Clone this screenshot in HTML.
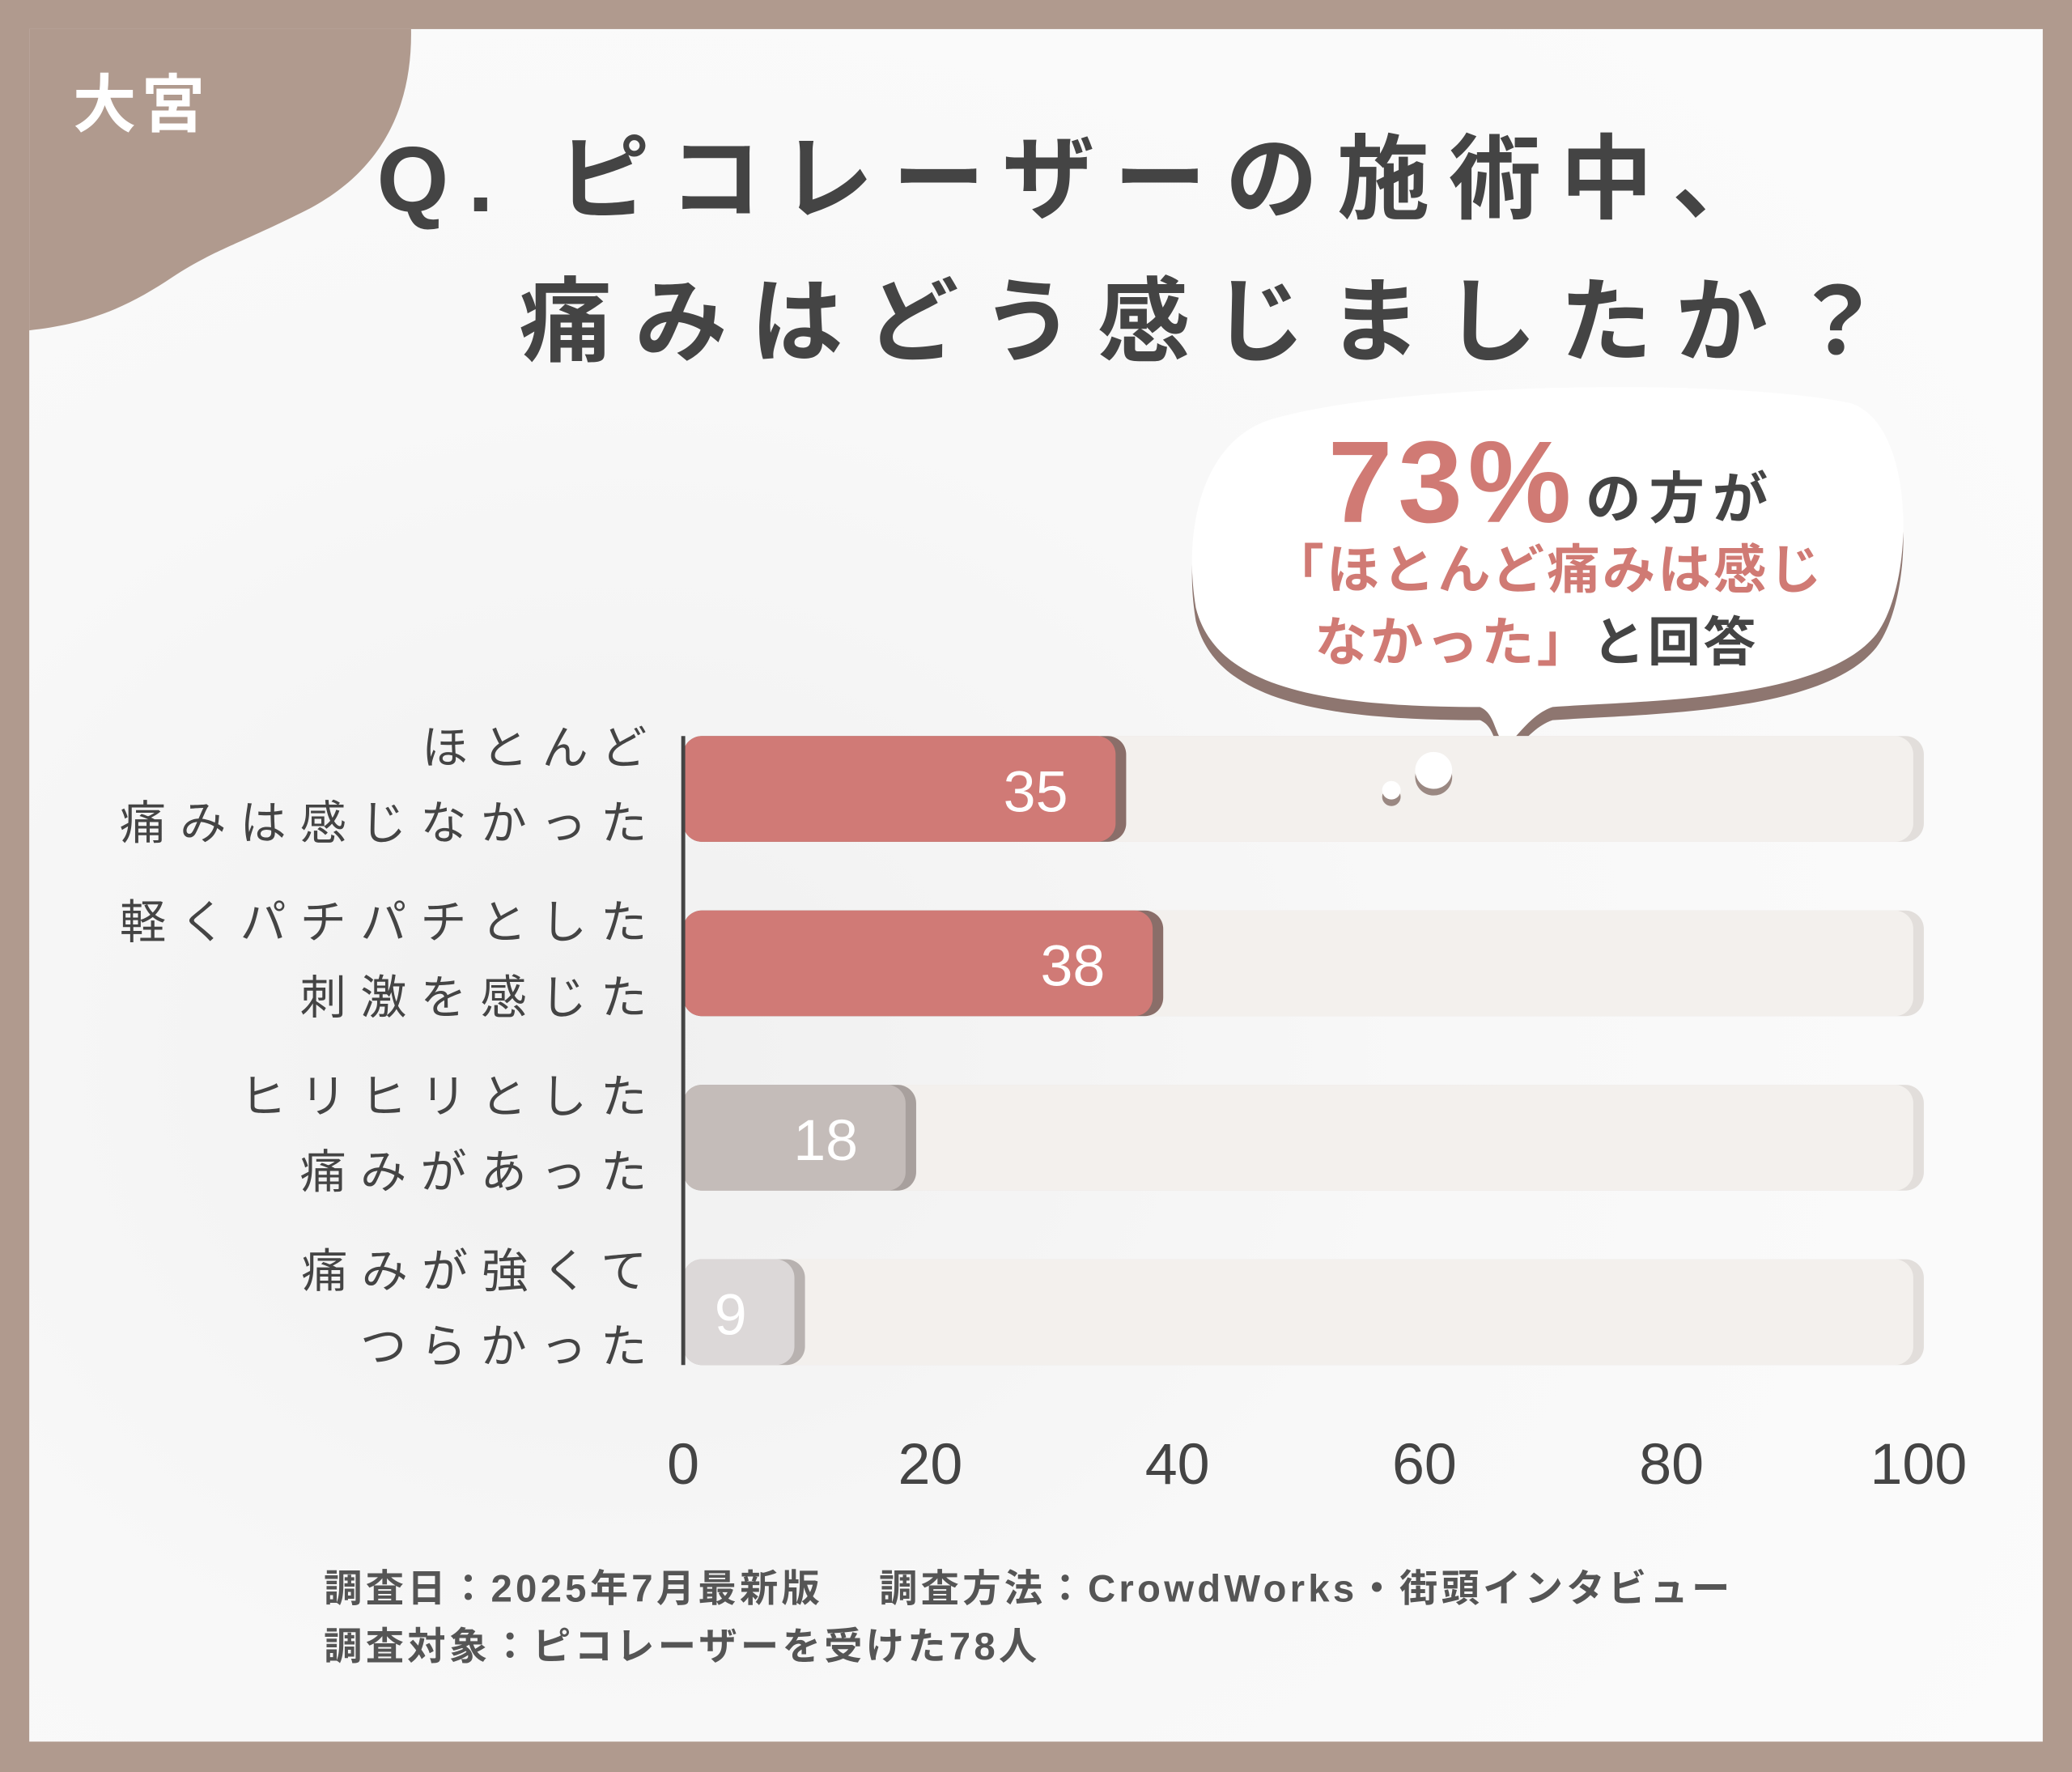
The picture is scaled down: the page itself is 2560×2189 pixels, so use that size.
<!DOCTYPE html>
<html><head><meta charset="utf-8"><style>
html,body{margin:0;padding:0;background:#b09a8e;}
svg{display:block;}
text{font-family:"Liberation Sans","Noto Sans CJK JP",sans-serif;}
</style></head><body>
<svg id="chart" width="2560" height="2189" viewBox="0 0 1568 1341" xmlns="http://www.w3.org/2000/svg">
<defs>
<radialGradient id="bgg" cx="0.3" cy="0.6" r="0.8"><stop offset="0" stop-color="#f0f0f0"/><stop offset="0.5" stop-color="#f8f8f8"/><stop offset="1" stop-color="#fbfbfb"/></radialGradient>
</defs>
<rect x="0" y="0" width="1568" height="1341" fill="#b09a8e"/>
<rect x="22" y="22" width="1524" height="1296" fill="url(#bgg)"/>
<path d="M22 22 L311 22 C312 80 290 130 230 160 C180 185 160 190 130 210 C100 230 70 245 22 250 Z" fill="#b09a8e"/>
<text x="55" y="96" font-size="48" font-weight="700" fill="#fff" letter-spacing="4">大宮</text>
<text x="285" y="160" font-size="70" font-weight="700" fill="#444" letter-spacing="14.5">Q. ピコレーザーの施術中、</text>
<text x="393" y="268" font-size="70" font-weight="700" fill="#444" letter-spacing="17.5">痛みはどう感じましたか？</text>
<g>
<path d="M960 318 C1050 290 1300 285 1400 305 C1450 320 1450 440 1420 480 C1380 530 1250 530 1175 535 C1160 540 1150 555 1140 565 C1130 555 1132 540 1120 535 C1000 535 920 520 905 460 C895 400 910 335 960 318 Z" fill="#8e7670" transform="translate(0,10)"/>
<path d="M960 318 C1050 290 1300 285 1400 305 C1450 320 1450 440 1420 480 C1380 530 1250 530 1175 535 C1160 540 1150 555 1140 565 C1130 555 1132 540 1120 535 C1000 535 920 520 905 460 C895 400 910 335 960 318 Z" fill="#fff"/>
<text x="1005" y="395" font-size="88" font-weight="700" fill="#d07a74" letter-spacing="4">73%</text>
<text x="1200" y="392" font-size="42" font-weight="700" fill="#444" letter-spacing="6">の方が</text>
<text x="962" y="445" font-size="40" font-weight="700" fill="#d07a74" letter-spacing="2">「ほとんど痛みは感じ</text>
<text x="995" y="500" font-size="40" font-weight="700" fill="#d07a74" letter-spacing="2">なかった」<tspan fill="#444">と回答</tspan></text>
</g>
<g id="plot"></g>
<text x="245" y="1212" font-size="29" font-weight="700" fill="#555" letter-spacing="2.6">調査日：2025年7月最新版　 調査方法：CrowdWorks・街頭インタビュー</text>
<text x="245" y="1256" font-size="29" font-weight="700" fill="#555" letter-spacing="2.6">調査対象：ピコレーザーを受けた78人</text>
</svg>
<script>
const categories = [["ほとんど","痛みは感じなかった"],["軽くパチパチとした","刺激を感じた"],["ヒリヒリとした","痛みがあった"],["痛みが強くて","つらかった"]];
const values = [35, 38, 18, 9];
const ticks = [0, 20, 40, 60, 80, 100];
const NS = "http://www.w3.org/2000/svg";
const g = document.getElementById('plot');
const x0 = 517, x1 = 1452, xmax = 100;
const xs = v => x0 + (v / xmax) * (x1 - x0);
const rowTop = i => 557 + i * 132;
const barH = 80;
const fills = ["#d07a76","#d07a76","#c4bcb9","#dcd8d8"];
const shades = ["#8a6e69","#8a6e69","#a8a09d","#b8b2b0"];
function mk(tag, attrs){const e=document.createElementNS(NS,tag);for(const k in attrs)e.setAttribute(k,attrs[k]);g.appendChild(e);return e;}
values.forEach((v,i)=>{
  const y = rowTop(i);
  const tr = mk('rect',{x:x0,y:y,width:x1-x0+4,height:barH,rx:14,fill:"#e2dedb"});
  
  
  const t2 = mk('rect',{x:x0,y:y,width:x1-x0-4,height:barH,rx:14,fill:"#f3f0ed"});
  
  
  const sh = mk('rect',{x:x0,y:y,width:xs(v)-x0+8,height:barH,rx:14,fill:shades[i]});
  
  
  const b = mk('rect',{x:x0,y:y,width:xs(v)-x0,height:barH,rx:14,fill:fills[i]});
  
  
  const lb = mk('text',{x:xs(v)-36,y:y+57,'font-size':44,'text-anchor':'end',fill:'#fff'});
  lb.textContent = v;
  
  
  categories[i].forEach((s,j)=>{
    const c = mk('text',{x:500,y:y+21+j*57,'font-size':35,'text-anchor':'end',fill:'#444','letter-spacing':10.5});
    c.textContent = s;
    
    
  });
});
const ax = mk('line',{x1:x0,y1:557,x2:x0,y2:1033,stroke:'#444','stroke-width':3});


ticks.forEach(t=>{
  const tk = mk('text',{x:xs(t),y:1123,'font-size':44,'text-anchor':'middle',fill:'#444'});
  tk.textContent = t;
  
  
});
[[1085,583,14],[1053,598,7]].forEach(d=>{
  const s = mk('circle',{cx:d[0],cy:d[1]+5,r:d[2],fill:'#9a8882'});
  
  
  const c = mk('circle',{cx:d[0],cy:d[1],r:d[2],fill:'#fff'});
  
  
});
</script>
</body></html>
